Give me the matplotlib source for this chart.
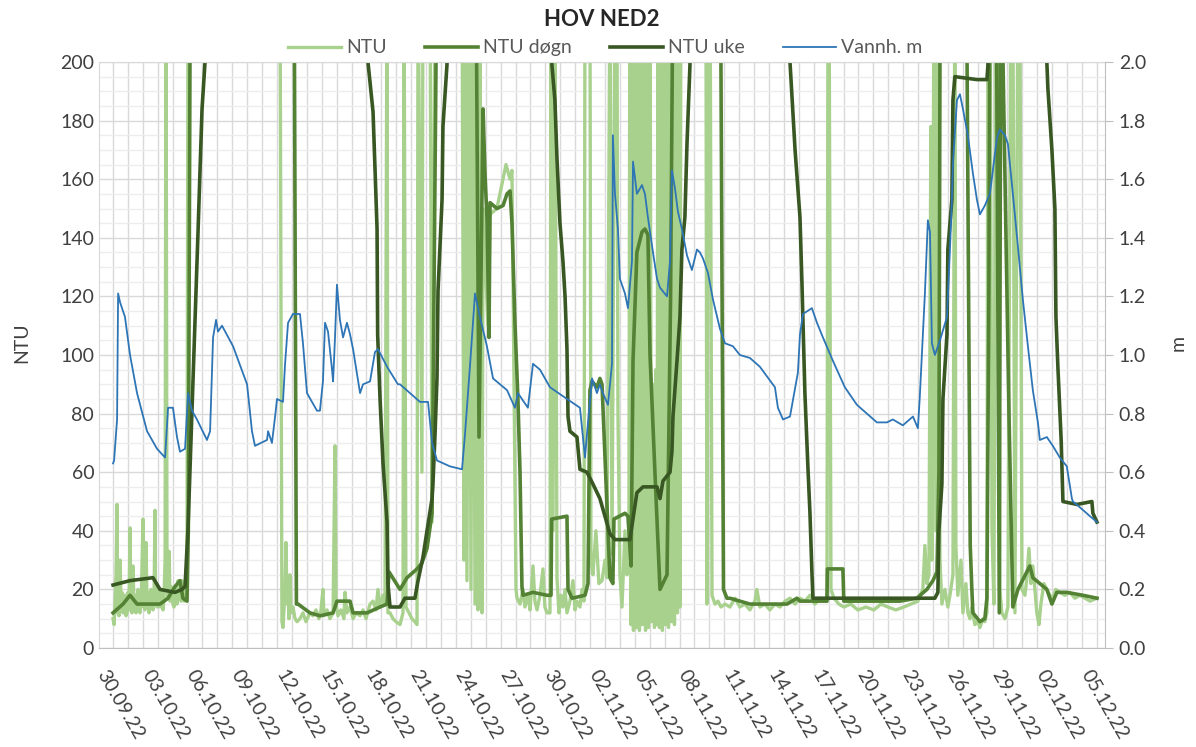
'''
    HOV NED2 - turbidity (NTU) and water level (m)
'''

# - Imports

from datetime import datetime
import matplotlib
matplotlib.use("Agg")
import matplotlib.pyplot as plt
import matplotlib.dates as mdates
from matplotlib.ticker import MultipleLocator, FixedLocator, FormatStrFormatter
from matplotlib.transforms import ScaledTranslation

# - Data
# All series as (days after 30.09.22 00:00, value). Values of 230 are off the top of the chart.

start_date = datetime(2022, 9, 30)
tick_days = list(range(0, 67, 3))

ntu = [
    (0.00, 10), (0.07, 8), (0.14, 16), (0.20, 25), (0.27, 49), (0.30, 12), (0.34, 20), (0.40, 11), (0.47, 30),
    (0.54, 14), (0.60, 19), (0.67, 12), (0.74, 17), (0.80, 18), (0.87, 11), (0.94, 12), (1.00, 19), (1.07, 13),
    (1.14, 41), (1.18, 14), (1.21, 22), (1.27, 12), (1.34, 28), (1.41, 14), (1.47, 18), (1.54, 12), (1.61, 17),
    (1.68, 20), (1.74, 13), (1.81, 12), (1.90, 18), (2.01, 44), (2.05, 14), (2.08, 30), (2.14, 13), (2.21, 36),
    (2.28, 15), (2.34, 19), (2.41, 12), (2.48, 17), (2.55, 20), (2.62, 14), (2.68, 13), (2.75, 18), (2.82, 47),
    (2.85, 15), (2.88, 22), (2.95, 14), (3.02, 16), (3.08, 20), (3.15, 14), (3.22, 19), (3.29, 18), (3.35, 13),
    (3.42, 17), (3.49, 30), (3.55, 230), (3.62, 30), (3.69, 17), (3.76, 33), (3.82, 16), (3.89, 21), (3.96, 20),
    (4.02, 15), (4.09, 14), (4.16, 21), (4.23, 18), (4.29, 15), (4.36, 23), (4.42, 17), (4.49, 21), (4.56, 16),
    (4.63, 23), (4.69, 18), (4.76, 16), (4.83, 22), (4.90, 20), (4.96, 25), (5.03, 230), (11.20, 230),
    (11.33, 9), (11.40, 7), (11.54, 20), (11.60, 36), (11.67, 15), (11.74, 22), (11.80, 10), (11.87, 25),
    (11.94, 12), (12.07, 14), (12.21, 10), (12.34, 9), (12.54, 10), (12.74, 12), (12.94, 9), (13.21, 12),
    (13.41, 11), (13.61, 13), (13.81, 10), (13.95, 13), (14.08, 20), (14.15, 11), (14.35, 13), (14.55, 10),
    (14.76, 12), (14.89, 69), (14.96, 15), (15.09, 11), (15.29, 13), (15.49, 10), (15.56, 19), (15.69, 12),
    (15.90, 14), (16.10, 10), (16.30, 12), (16.57, 11), (16.77, 13), (16.97, 10), (17.24, 15), (17.44, 16),
    (17.64, 13), (17.77, 20), (17.91, 14), (18.11, 18), (18.24, 15), (18.38, 230), (18.44, 12), (18.58, 12),
    (18.78, 10), (18.98, 9), (19.25, 8), (19.45, 12), (19.52, 230), (19.65, 14), (19.85, 12), (20.05, 10),
    (20.25, 9), (20.39, 8), (20.46, 230), (20.72, 60), (20.79, 230), (21.26, 230), (21.40, 43), (21.60, 230),
    (23.41, 230), (23.54, 30), (23.61, 230), (23.74, 23), (23.88, 230), (24.01, 20), (24.14, 230), (24.28, 15),
    (24.41, 230), (24.48, 13), (24.61, 230), (24.75, 12), (24.82, 150), (25.15, 110), (25.29, 148), (25.75, 150),
    (26.16, 160), (26.36, 165), (26.63, 160), (26.76, 163), (26.90, 90), (27.03, 20), (27.10, 17),
    (27.30, 15), (27.50, 20), (27.63, 14), (27.83, 18), (27.97, 13), (28.17, 28), (28.30, 16), (28.44, 13),
    (28.64, 18), (28.84, 27), (28.97, 14), (29.11, 12), (29.31, 12), (29.38, 230), (29.51, 40), (29.64, 230),
    (29.78, 24), (29.91, 12), (30.05, 18), (30.18, 14), (30.32, 20), (30.45, 12), (30.65, 16), (30.85, 23),
    (30.99, 13), (31.12, 16), (31.32, 14), (31.46, 20), (31.59, 16), (31.66, 230), (31.99, 230), (32.06, 30),
    (32.19, 25), (32.39, 40), (32.59, 22), (32.80, 23), (33.00, 30), (33.13, 24), (33.33, 230), (33.47, 32),
    (33.67, 230), (33.80, 230), (33.87, 80), (34.00, 25), (34.14, 14), (34.34, 40), (34.47, 25), (34.60, 30),
    (34.67, 230), (34.74, 8), (34.81, 230), (34.91, 6), (35.01, 230), (35.11, 7), (35.21, 230), (35.31, 6),
    (35.41, 230), (35.51, 8), (35.62, 230), (35.72, 6), (35.82, 230), (35.92, 7), (36.02, 230), (36.12, 9),
    (36.22, 90), (36.32, 7), (36.42, 95), (36.49, 8), (36.55, 230), (36.65, 7), (36.75, 230), (36.85, 6),
    (36.95, 230), (37.05, 8), (37.16, 230), (37.26, 7), (37.36, 230), (37.46, 9), (37.56, 230), (37.66, 8),
    (37.76, 230), (37.86, 12), (37.96, 230), (38.03, 14), (38.09, 230), (39.77, 230),
    (39.84, 15), (39.91, 230), (40.05, 230), (40.18, 18), (40.38, 15), (40.58, 16), (40.78, 14), (41.05, 15),
    (41.38, 14), (41.72, 17), (42.05, 14), (42.38, 15), (42.72, 13), (43.06, 16), (43.19, 20), (43.39, 14),
    (43.73, 15), (44.06, 13), (44.40, 15), (44.74, 14), (45.08, 16), (45.41, 17), (45.75, 15), (46.08, 17),
    (46.41, 16), (46.75, 18), (47.08, 15), (47.42, 17), (47.75, 16), (47.89, 16), (47.96, 230), (48.03, 230),
    (48.16, 20), (48.36, 17), (48.69, 15), (49.02, 14), (49.49, 15), (49.96, 13), (50.50, 14), (51.04, 13),
    (51.51, 15), (51.98, 14), (52.51, 13), (53.05, 14), (53.52, 15), (53.99, 16), (54.32, 20), (54.46, 35),
    (54.59, 22), (54.73, 25), (54.86, 178), (54.93, 30), (55.07, 230), (55.20, 40), (55.33, 230), (55.47, 30),
    (55.60, 15), (55.80, 20), (56.00, 14), (56.14, 18), (56.34, 25), (56.47, 230), (56.54, 35), (56.67, 18),
    (56.88, 30), (57.01, 12), (57.21, 22), (57.34, 12), (57.48, 10), (57.61, 14), (57.81, 8), (58.02, 9),
    (58.15, 7), (58.35, 10), (58.48, 9), (58.62, 12), (58.69, 230), (58.82, 230), (58.96, 40), (59.09, 15),
    (59.22, 230), (59.36, 230), (59.49, 20), (59.62, 12), (59.83, 10), (60.03, 14), (60.23, 230), (60.36, 230),
    (60.50, 12), (60.70, 230), (60.83, 230), (60.97, 20), (61.17, 18), (61.30, 24), (61.44, 34), (61.57, 22),
    (61.70, 28), (61.84, 20), (61.97, 12), (62.11, 8), (62.24, 15), (62.44, 22), (62.64, 20), (62.84, 18),
    (63.04, 17), (63.24, 20), (63.51, 19), (63.85, 18), (64.18, 19), (64.52, 17), (64.86, 18), (65.19, 17),
    (65.53, 16), (66.00, 17),
]

ntu_dogn = [
    (0.00, 12), (0.67, 15), (1.14, 18), (1.61, 15), (2.48, 15), (3.15, 15), (3.69, 17), (4.16, 21),
    (4.49, 23), (4.69, 17), (4.96, 16), (5.05, 40), (5.16, 200), (5.25, 230), (12.15, 230), (12.30, 15),
    (12.41, 15), (13.21, 12), (13.88, 11), (14.76, 12), (15.02, 16), (15.90, 16), (16.10, 12), (17.04, 12),
    (17.91, 14), (18.38, 15), (18.51, 26), (19.25, 20), (19.72, 24), (20.39, 27), (20.72, 29), (21.06, 34),
    (21.40, 46), (21.66, 200), (21.72, 230), (24.35, 230), (24.55, 72), (24.82, 184), (24.95, 162), (25.08, 147),
    (25.22, 106), (25.29, 152), (25.75, 150), (26.16, 151), (26.43, 155), (26.63, 156), (26.76, 145), (26.96, 111),
    (27.16, 85), (27.30, 60), (27.43, 21), (27.50, 18), (28.17, 19), (29.11, 18), (29.38, 18), (29.42, 44),
    (30.45, 45), (30.52, 20), (30.79, 17), (31.66, 18), (31.86, 22), (31.99, 88), (32.13, 91), (32.46, 89),
    (32.66, 92), (32.80, 90), (33.33, 24), (33.53, 22), (33.60, 44), (34.34, 46), (34.54, 45), (34.75, 28),
    (34.88, 98), (35.14, 135), (35.48, 142), (35.68, 143), (35.88, 141), (36.02, 100), (36.35, 60), (36.69, 20),
    (37.16, 25), (37.40, 120), (37.56, 230), (40.75, 230), (40.95, 20), (41.18, 17), (41.38, 17), (42.72, 15),
    (43.86, 15), (45.21, 15), (45.88, 17), (46.08, 16), (47.89, 16), (47.92, 27), (48.96, 27), (49.02, 16),
    (50.57, 16), (52.78, 16), (53.92, 17), (54.59, 20), (55.00, 23), (55.27, 26), (55.40, 60), (55.47, 200),
    (55.55, 230), (57.25, 230), (57.50, 35), (57.61, 20), (57.68, 12), (58.15, 9), (58.48, 10), (58.62, 17),
    (58.75, 120), (58.82, 230), (59.25, 230), (59.45, 12), (59.55, 230), (59.70, 200), (60.10, 80), (60.36, 14),
    (60.70, 20), (61.50, 28), (61.70, 24), (62.64, 20), (62.98, 15), (63.31, 19), (63.98, 19), (65.06, 18),
    (66.00, 17),
]

ntu_uke = [
    (0.00, 21.5), (1.14, 23), (2.68, 24), (3.15, 20), (4.16, 19), (4.63, 20), (4.83, 21), (5.03, 41),
    (5.70, 142), (5.97, 184), (6.17, 200), (6.25, 230), (17.00, 230), (17.10, 200), (17.44, 183), (17.57, 164),
    (17.71, 143), (17.75, 107), (17.91, 85), (18.11, 63), (18.38, 43), (18.44, 22), (18.58, 14), (19.25, 14),
    (19.58, 17), (20.25, 17), (20.46, 23), (20.79, 31), (21.06, 40), (21.40, 51), (21.46, 56), (21.60, 73),
    (21.73, 92), (21.80, 122), (22.07, 153), (22.13, 178), (22.40, 199), (22.50, 230), (29.30, 230), (29.44, 199),
    (29.64, 187), (29.78, 167), (29.98, 145), (30.18, 132), (30.32, 120), (30.45, 102), (30.52, 79), (30.65, 74),
    (31.12, 72), (31.32, 61), (31.79, 60), (32.19, 56), (32.66, 51), (33.33, 39), (33.67, 37), (34.67, 37),
    (35.14, 53), (35.55, 55), (36.49, 55), (36.69, 51), (36.89, 57), (37.36, 60), (37.49, 67), (37.56, 79),
    (37.83, 98), (38.03, 113), (38.16, 136), (38.36, 147), (38.50, 172), (38.70, 199), (38.80, 230), (45.30, 230),
    (45.41, 200), (45.75, 170), (46.08, 147), (46.21, 125), (46.41, 87), (46.61, 62), (46.75, 46), (46.88, 26),
    (46.95, 17), (55.13, 17), (55.33, 19), (55.40, 40), (55.60, 56), (55.67, 85), (55.94, 107), (56.00, 136),
    (56.27, 153), (56.34, 187), (56.47, 195), (57.95, 194), (58.62, 194), (58.69, 199), (58.80, 230), (62.55, 230),
    (62.64, 200), (62.71, 191), (62.98, 170), (63.18, 150), (63.25, 113), (63.38, 96), (63.60, 71), (63.72, 50),
    (64.66, 49), (65.66, 50), (65.73, 46), (66.00, 43),
]

vannh = [
    (0.00, 0.63), (0.07, 0.64), (0.27, 0.78), (0.34, 1.21), (0.47, 1.18), (0.80, 1.13), (1.14, 1.00), (1.61, 0.87),
    (2.28, 0.74), (2.95, 0.68), (3.49, 0.65), (3.69, 0.82), (4.02, 0.82), (4.29, 0.72), (4.49, 0.67), (4.83, 0.68),
    (5.03, 0.87), (5.30, 0.81), (5.63, 0.78), (6.30, 0.71), (6.51, 0.74), (6.71, 1.06), (6.91, 1.12), (7.04, 1.08),
    (7.31, 1.10), (8.05, 1.03), (8.99, 0.90), (9.32, 0.74), (9.52, 0.69), (10.33, 0.71), (10.40, 0.74), (10.66, 0.70),
    (10.87, 0.79), (11.00, 0.85), (11.40, 0.84), (11.54, 0.97), (11.74, 1.11), (12.07, 1.14), (12.54, 1.14), (12.74, 1.04),
    (13.01, 0.87), (13.68, 0.81), (13.88, 0.81), (14.08, 0.91), (14.22, 1.11), (14.42, 1.08), (14.69, 0.95), (14.76, 0.91),
    (14.89, 1.06), (15.02, 1.24), (15.22, 1.12), (15.43, 1.06), (15.69, 1.11), (15.90, 1.07), (16.10, 1.02), (16.57, 0.87),
    (16.77, 0.90), (17.24, 0.91), (17.57, 1.01), (17.77, 1.02), (18.38, 0.96), (19.11, 0.90), (19.25, 0.90), (20.59, 0.84),
    (21.13, 0.84), (21.40, 0.70), (21.73, 0.64), (22.60, 0.62), (23.41, 0.61), (23.61, 0.73), (23.94, 0.96), (24.28, 1.21),
    (24.61, 1.13), (25.08, 1.03), (25.49, 0.92), (25.96, 0.90), (26.43, 0.88), (26.96, 0.82), (27.16, 0.87), (27.83, 0.82),
    (28.17, 0.97), (28.64, 0.95), (29.31, 0.89), (30.45, 0.85), (31.32, 0.82), (31.52, 0.72), (31.66, 0.65), (31.86, 0.77),
    (32.13, 0.92), (32.46, 0.87), (32.66, 0.90), (32.86, 0.87), (33.20, 0.83), (33.47, 0.97), (33.53, 1.75), (33.67, 1.55),
    (33.87, 1.43), (34.00, 1.26), (34.34, 1.21), (34.54, 1.16), (34.81, 1.32), (34.88, 1.66), (35.14, 1.55), (35.48, 1.58),
    (35.68, 1.55), (35.88, 1.47), (36.22, 1.35), (36.49, 1.26), (36.69, 1.23), (37.16, 1.20), (37.36, 1.32), (37.49, 1.63),
    (37.69, 1.57), (37.89, 1.49), (38.16, 1.43), (38.50, 1.34), (38.83, 1.29), (39.17, 1.36), (39.37, 1.35), (39.57, 1.33),
    (39.91, 1.28), (40.24, 1.19), (40.71, 1.09), (41.05, 1.04), (41.58, 1.03), (42.05, 1.00), (42.72, 0.99), (43.39, 0.96),
    (44.40, 0.89), (44.60, 0.82), (44.94, 0.78), (45.41, 0.79), (45.94, 0.94), (46.08, 1.07), (46.28, 1.14), (46.88, 1.16),
    (47.22, 1.11), (47.62, 1.06), (48.29, 0.98), (49.09, 0.89), (49.90, 0.83), (50.57, 0.80), (51.24, 0.77), (51.91, 0.77),
    (52.31, 0.78), (52.98, 0.76), (53.66, 0.79), (53.99, 0.75), (54.12, 0.86), (54.46, 1.21), (54.66, 1.46), (54.80, 1.42),
    (54.93, 1.04), (55.13, 1.00), (55.47, 1.05), (55.94, 1.13), (56.14, 1.36), (56.27, 1.53), (56.34, 1.65), (56.61, 1.87),
    (56.81, 1.89), (57.01, 1.84), (57.34, 1.75), (57.68, 1.62), (57.95, 1.53), (58.15, 1.48), (58.48, 1.51), (58.82, 1.55),
    (59.29, 1.74), (59.49, 1.77), (59.83, 1.75), (60.03, 1.72), (60.36, 1.55), (60.70, 1.37), (61.03, 1.19), (61.37, 1.03),
    (61.70, 0.88), (62.04, 0.77), (62.17, 0.71), (62.64, 0.72), (63.04, 0.69), (63.51, 0.65), (63.98, 0.62), (64.32, 0.51),
    (64.39, 0.50), (64.86, 0.48), (65.53, 0.45), (66.00, 0.43),
]

# - Functions

def to_xy(points):
    '''Splits (day, value) pairs into matplotlib date numbers and values'''
    base = mdates.date2num(start_date)
    return [base + day for day, _ in points], [value for _, value in points]


def main():
    '''Main'''

    plt.rcParams['font.family'] = ['Lato', 'DejaVu Sans']

    fig = plt.figure(figsize=(11.96, 7.47), dpi=100)
    axes = fig.add_axes([0.0828, 0.1325, 0.8411, 0.7845])
    axes2 = axes.twinx()

    base = mdates.date2num(start_date)

    # Lines (Excel order: NTU at the bottom, water level on top)
    x, y = to_xy(ntu)
    axes.plot(x, y, color="#A9D18E", lw=2.4, label="NTU", solid_joinstyle="round")
    x, y = to_xy(ntu_dogn)
    axes.plot(x, y, color="#548235", lw=2.6, label="NTU døgn", solid_joinstyle="round")
    x, y = to_xy(ntu_uke)
    axes.plot(x, y, color="#385723", lw=2.6, label="NTU uke", solid_joinstyle="round")
    x, y = to_xy(vannh)
    axes2.plot(x, y, color="#2E75B6", lw=1.3, label="Vannh. m", solid_joinstyle="round")

    # Axes ranges
    axes.set_xlim(base - 0.94, base + 66.54)
    axes.set_ylim(0, 200)
    axes2.set_ylim(0, 2.0)

    # Ticks and grid
    axes.xaxis.set_major_locator(FixedLocator([base + d for d in tick_days]))
    axes.xaxis.set_minor_locator(mdates.DayLocator())
    axes.xaxis.set_major_formatter(mdates.DateFormatter("%d.%m.%y"))
    axes.yaxis.set_major_locator(MultipleLocator(20))
    axes.yaxis.set_minor_locator(MultipleLocator(5))
    axes2.yaxis.set_major_locator(MultipleLocator(0.2))
    axes2.yaxis.set_major_formatter(FormatStrFormatter("%.1f"))

    axes.grid(which="major", color="#D9D9D9", lw=1.0)
    axes.grid(which="minor", axis="x", color="#D9D9D9", lw=1.0)
    axes.grid(which="minor", axis="y", color="#EDEDED", lw=1.0)
    axes.set_axisbelow(True)

    axes.tick_params(axis="both", which="both", length=0, labelsize=14, labelcolor="#404040")
    axes.tick_params(axis="x", pad=17)
    axes2.tick_params(axis="y", length=6, color="#BFBFBF", labelsize=14, labelcolor="#404040", pad=4)

    for spine in ["top", "left"]:
        axes.spines[spine].set_color("#D9D9D9")
        axes2.spines[spine].set_visible(False)
    axes.spines["right"].set_visible(False)
    axes.spines["bottom"].set_color("#BFBFBF")
    axes2.spines["right"].set_color("#BFBFBF")
    axes2.spines["bottom"].set_visible(False)

    shift = ScaledTranslation(-0.12, 0, fig.dpi_scale_trans)
    for label in axes.get_xticklabels():
        label.set_rotation(-60)
        label.set_rotation_mode("anchor")
        label.set_horizontalalignment("left")
        label.set_verticalalignment("center")
        label.set_transform(label.get_transform() + shift)

    # Labels, title and legend
    fig.text(0.0184, 0.541, "NTU", rotation=90, fontsize=14, color="#404040", ha="center", va="center")
    fig.text(0.9849, 0.541, "m", rotation=90, fontsize=14, color="#404040", ha="center", va="center")
    fig.text(0.503, 0.974, "HOV NED2", fontsize=16, fontweight="bold", color="#262626", ha="center", va="center")

    handles = axes.get_lines() + axes2.get_lines()
    fig.legend(handles, [h.get_label() for h in handles], loc="center", bbox_to_anchor=(0.506, 0.936),
               ncol=4, frameon=False, fontsize=14, labelcolor="#595959", handlelength=2.7,
               handletextpad=0.25, columnspacing=2.0)

    fig.savefig("out.png", dpi=100)


# - Main

if __name__ == "__main__":
    main()
